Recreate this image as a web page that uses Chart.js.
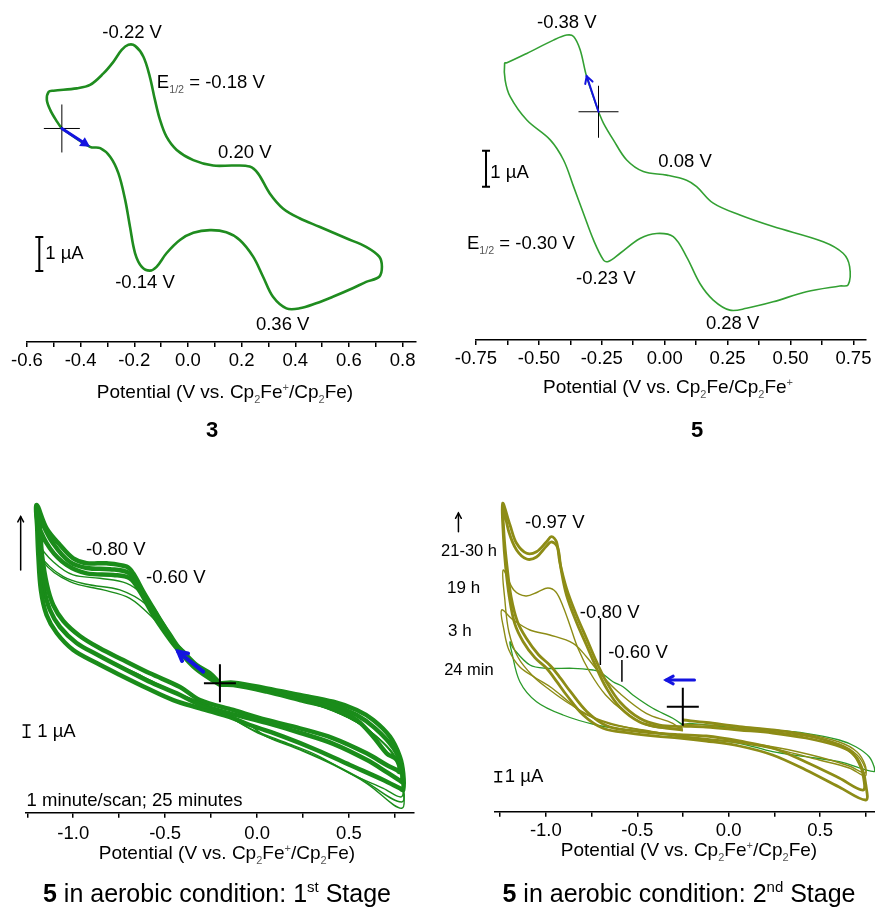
<!DOCTYPE html>
<html>
<head>
<meta charset="utf-8">
<script src="https://cdn.jsdelivr.net/npm/chart.js@4.4.1/dist/chart.umd.min.js"></script>
<style>
  body { margin: 0; background: #fff; }
  #page { position: relative; width: 875px; height: 909px; overflow: hidden; font-family: "Liberation Sans", Arial, sans-serif; color: #000; }
  canvas { position: absolute; }
  .lbl { position: absolute; transform: translate(-50%, -50%); white-space: nowrap; }
  .axt { font-size: 19px; }
  .axt sub, .axt sup { font-size: 58%; color: #555; }
  .cap { font-size: 25px; }
  .cap sup { font-size: 60%; }
  .num { font-weight: bold; font-size: 22px; }
</style>
</head>
<body>
<div id="page">
  <canvas id="cv3" width="440" height="440" style="left:0;top:0"></canvas>
  <canvas id="cv5" width="435" height="440" style="left:440px;top:0"></canvas>
  <canvas id="cvStage1" width="440" height="449" style="left:0;top:460px"></canvas>
  <canvas id="cvStage2" width="435" height="449" style="left:440px;top:460px"></canvas>

  <div class="lbl axt" style="left:225px;top:393px">Potential (V vs. Cp<sub>2</sub>Fe<sup>+</sup>/Cp<sub>2</sub>Fe)</div>
  <div class="lbl num" style="left:212px;top:430px">3</div>
  <div class="lbl axt" style="left:668px;top:388px">Potential (V vs. Cp<sub>2</sub>Fe/Cp<sub>2</sub>Fe<sup>+</sup></div>
  <div class="lbl num" style="left:697px;top:430px">5</div>
  <div class="lbl axt" style="left:227px;top:854px">Potential (V vs. Cp<sub>2</sub>Fe<sup>+</sup>/Cp<sub>2</sub>Fe)</div>
  <div class="lbl cap" style="left:217px;top:893px"><b>5</b> in aerobic condition: 1<sup>st</sup> Stage</div>
  <div class="lbl axt" style="left:689px;top:851px">Potential (V vs. Cp<sub>2</sub>Fe<sup>+</sup>/Cp<sub>2</sub>Fe)</div>
  <div class="lbl cap" style="left:679px;top:893px"><b>5</b> in aerobic condition: 2<sup>nd</sup> Stage</div>
</div>

<script>
// ---- data: [potential (V), current (uA, arbitrary offset)] ----

// compound 3
const scan3 = [
  [-0.470, 6.28], [-0.365, 5.74], [-0.327, 5.70], [-0.290, 5.45], [-0.259, 4.96], [-0.234, 4.18],
  [-0.216, 3.39], [-0.197, 2.61], [-0.172, 2.21], [-0.142, 2.10], [-0.117, 2.21], [-0.080, 2.61],
  [-0.030, 3.00], [0.020, 3.21], [0.082, 3.29], [0.143, 3.23], [0.193, 3.00], [0.243, 2.51],
  [0.280, 1.92], [0.317, 1.33], [0.367, 0.99], [0.416, 0.99], [0.478, 1.14], [0.540, 1.33],
  [0.614, 1.58], [0.664, 1.77], [0.713, 1.92], [0.723, 2.21], [0.713, 2.51], [0.664, 2.80],
  [0.590, 3.05], [0.490, 3.39], [0.416, 3.64], [0.354, 3.93], [0.305, 4.37], [0.261, 4.96],
  [0.230, 5.16], [0.168, 5.19], [0.094, 5.19], [0.020, 5.35], [-0.042, 5.65], [-0.080, 6.04],
  [-0.104, 6.53], [-0.123, 7.12], [-0.142, 7.80], [-0.166, 8.39], [-0.197, 8.71], [-0.222, 8.74],
  [-0.247, 8.59], [-0.278, 8.24], [-0.315, 7.90], [-0.365, 7.56], [-0.414, 7.46], [-0.501, 7.39],
  [-0.519, 7.36], [-0.526, 7.12], [-0.513, 6.82], [-0.488, 6.48], [-0.470, 6.28]
];

// compound 5
const scan5 = [
  [-0.263, 6.34], [-0.310, 7.31], [-0.336, 8.06], [-0.362, 8.43], [-0.389, 8.47], [-0.442, 8.33],
  [-0.548, 7.96], [-0.627, 7.70], [-0.636, 7.69], [-0.634, 7.22], [-0.614, 6.76], [-0.548, 6.11],
  [-0.455, 5.56], [-0.402, 5.00], [-0.362, 4.26], [-0.323, 3.52], [-0.283, 2.78], [-0.243, 2.22],
  [-0.224, 2.18], [-0.177, 2.41], [-0.098, 2.82], [-0.032, 2.96], [0.034, 2.87], [0.087, 2.31],
  [0.140, 1.57], [0.193, 1.11], [0.259, 0.83], [0.325, 0.88], [0.431, 1.06], [0.563, 1.34],
  [0.696, 1.50], [0.729, 1.53], [0.735, 2.04], [0.709, 2.41], [0.630, 2.73], [0.431, 3.15],
  [0.299, 3.47], [0.193, 3.80], [0.127, 4.26], [0.087, 4.44], [0.008, 4.58], [-0.085, 4.68],
  [-0.151, 5.00], [-0.204, 5.56], [-0.243, 6.02], [-0.263, 6.34]
];

// 5 aerobic, 1st stage: bundle of repeated scans (outer, middle, inner) and early scans
const stage1Outer = [
  [-0.202, 10.52], [-0.256, 11.33], [-0.329, 12.01], [-0.402, 13.09], [-0.456, 13.90], [-0.510, 15.26],
  [-0.565, 16.62], [-0.619, 17.97], [-0.674, 19.46], [-0.709, 20.00], [-0.818, 20.28], [-0.927, 20.28],
  [-1.000, 20.68], [-1.072, 21.77], [-1.145, 23.12], [-1.199, 25.02],
  [-1.196, 23.12], [-1.190, 20.95], [-1.176, 18.11], [-1.145, 16.07], [-1.090, 14.61], [-1.000, 13.23],
  [-0.873, 12.17], [-0.746, 11.20], [-0.601, 10.14], [-0.456, 9.16], [-0.311, 8.49], [-0.129, 7.67],
  [-0.039, 7.13], [0.143, 6.18], [0.324, 5.10], [0.505, 3.88], [0.687, 2.66], [0.777, 1.98], [0.795, 1.85],
  [0.795, 3.20], [0.777, 4.55], [0.723, 6.18], [0.632, 7.54], [0.542, 8.35], [0.415, 9.02],
  [0.233, 9.57], [0.052, 10.11], [-0.129, 10.57], [-0.202, 10.52]
];
const stage1Middle = [
  [-0.202, 10.46], [-0.329, 11.85], [-0.420, 13.30], [-0.480, 14.60], [-0.540, 15.90], [-0.600, 17.20],
  [-0.650, 18.50], [-0.700, 19.50], [-0.800, 19.80], [-0.927, 19.90], [-1.020, 20.40], [-1.110, 21.90],
  [-1.170, 23.60], [-1.199, 24.80],
  [-1.190, 23.10], [-1.180, 20.90], [-1.160, 18.30], [-1.127, 16.50], [-1.072, 15.10], [-0.982, 13.80],
  [-0.864, 12.80], [-0.737, 11.80], [-0.592, 10.70], [-0.437, 9.70], [-0.311, 8.80], [-0.129, 8.00],
  [0.052, 7.30], [0.233, 6.50], [0.415, 5.60], [0.596, 4.30], [0.705, 3.30], [0.777, 2.60], [0.790, 2.50],
  [0.785, 3.80], [0.740, 5.30], [0.640, 6.90], [0.542, 7.95], [0.415, 8.75], [0.233, 9.37],
  [0.052, 9.98], [-0.129, 10.47], [-0.202, 10.46]
];
const stage1Inner = [
  [-0.202, 10.40], [-0.329, 11.65], [-0.437, 13.37], [-0.492, 14.45], [-0.565, 16.07], [-0.637, 17.97],
  [-0.692, 19.06], [-0.782, 19.33], [-0.927, 19.46], [-1.036, 20.14], [-1.127, 21.50], [-1.190, 23.39],
  [-1.199, 24.61],
  [-1.181, 23.12], [-1.170, 20.95], [-1.143, 18.51], [-1.109, 16.89], [-1.054, 15.59], [-0.964, 14.37],
  [-0.855, 13.37], [-0.728, 12.41], [-0.583, 11.33], [-0.419, 10.22], [-0.311, 9.16], [-0.129, 8.35],
  [0.052, 7.54], [0.233, 6.86], [0.415, 6.05], [0.596, 4.83], [0.705, 3.88], [0.760, 3.47], [0.777, 3.31],
  [0.760, 4.28], [0.705, 4.83], [0.632, 6.18], [0.542, 7.54], [0.415, 8.49], [0.233, 9.16],
  [0.052, 9.84], [-0.129, 10.38], [-0.202, 10.40]
];
const stage1EarlyA = [
  [-0.202, 10.52], [-0.329, 11.80], [-0.437, 13.37], [-0.492, 14.72], [-0.546, 16.34], [-0.619, 17.70],
  [-0.709, 18.65], [-0.855, 19.06], [-1.000, 19.33], [-1.109, 20.41], [-1.181, 21.77], [-1.197, 23.80],
  [-1.185, 21.50], [-1.172, 19.50], [-1.150, 17.40], [-1.110, 15.80], [-1.050, 14.60], [-0.960, 13.60],
  [-0.850, 12.70], [-0.700, 11.60], [-0.550, 10.50], [-0.400, 9.50], [-0.250, 8.60], [-0.039, 6.86],
  [0.143, 5.77], [0.324, 4.69], [0.505, 3.20], [0.687, 1.98], [0.787, 1.30],
  [0.787, 3.07], [0.750, 4.60], [0.680, 5.80], [0.560, 7.20], [0.415, 8.30], [0.233, 9.20],
  [0.052, 9.90], [-0.129, 10.40], [-0.202, 10.52]
];
const stage1EarlyB = [
  [-0.202, 10.52], [-0.329, 11.80], [-0.437, 13.37], [-0.528, 15.26], [-0.601, 16.89], [-0.746, 18.11],
  [-0.927, 18.57], [-1.054, 19.19], [-1.172, 20.81], [-1.192, 22.98],
  [-1.182, 21.00], [-1.168, 19.00], [-1.145, 17.20], [-1.100, 15.60], [-1.030, 14.40], [-0.940, 13.40],
  [-0.820, 12.50], [-0.680, 11.50], [-0.530, 10.40], [-0.380, 9.40], [-0.220, 8.40], [-0.050, 7.20],
  [0.052, 6.18], [0.233, 5.10], [0.415, 3.88], [0.596, 2.39], [0.787, 0.36],
  [0.787, 2.66], [0.755, 4.30], [0.690, 5.60], [0.570, 7.10], [0.415, 8.25], [0.233, 9.15],
  [0.052, 9.85], [-0.129, 10.35], [-0.202, 10.52]
];
const stage1EarlyC = [
  [-0.202, 10.52], [-0.329, 11.80], [-0.437, 13.37], [-0.492, 14.45], [-0.565, 15.80], [-0.692, 17.43],
  [-0.837, 18.11], [-1.018, 18.78], [-1.163, 20.41], [-1.187, 22.57],
  [-1.178, 20.60], [-1.163, 18.70], [-1.140, 17.00], [-1.095, 15.50], [-1.020, 14.30], [-0.930, 13.30],
  [-0.810, 12.40], [-0.670, 11.40], [-0.520, 10.30], [-0.370, 9.30], [-0.210, 8.30], [0.005, 6.48],
  [0.179, 5.50], [0.369, 4.28], [0.560, 2.82], [0.787, 0.87],
  [0.787, 2.90], [0.752, 4.45], [0.685, 5.70], [0.565, 7.15], [0.415, 8.28], [0.233, 9.18],
  [0.052, 9.87], [-0.129, 10.37], [-0.202, 10.52]
];

// 5 aerobic, 2nd stage
const stage2LateOuter = [   // 21-30 h
  [-0.251, 8.50], [-0.378, 8.67], [-0.487, 9.34], [-0.596, 11.00], [-0.669, 13.00], [-0.723, 15.00],
  [-0.778, 17.34], [-0.833, 19.67], [-0.887, 22.34], [-0.924, 25.00], [-0.942, 27.00], [-0.969, 27.50],
  [-0.996, 27.00], [-1.051, 26.00], [-1.105, 25.84], [-1.160, 26.84], [-1.196, 28.67], [-1.236, 30.84],
  [-1.232, 27.50], [-1.220, 24.50], [-1.200, 21.50], [-1.170, 18.80], [-1.124, 17.00], [-1.060, 15.40],
  [-0.996, 14.34], [-0.940, 13.00], [-0.887, 11.67], [-0.796, 9.67], [-0.687, 8.34], [-0.540, 7.85],
  [-0.400, 7.55], [-0.269, 7.37],
  [-0.123, 7.07], [0.058, 6.57], [0.240, 5.67], [0.422, 4.17], [0.604, 2.47], [0.750, 1.17],
  [0.750, 2.67], [0.732, 4.17], [0.695, 5.50], [0.604, 6.67], [0.422, 7.67], [0.240, 8.17],
  [0.058, 8.50], [-0.123, 8.92], [-0.251, 9.17]
];
const stage2LateInner = [   // 21-30 h
  [-0.251, 8.17], [-0.378, 8.47], [-0.487, 8.97], [-0.596, 10.47], [-0.669, 12.37], [-0.723, 14.37],
  [-0.778, 16.67], [-0.833, 18.97], [-0.887, 21.67], [-0.918, 24.37], [-0.935, 26.37], [-0.967, 26.97],
  [-0.996, 26.57], [-1.051, 25.47], [-1.105, 25.27], [-1.160, 26.17], [-1.202, 27.97], [-1.232, 30.37],
  [-1.228, 27.50], [-1.212, 24.50], [-1.190, 21.50], [-1.155, 19.00], [-1.105, 17.30], [-1.040, 15.70],
  [-0.975, 14.60], [-0.918, 13.30], [-0.865, 12.00], [-0.775, 10.00], [-0.668, 8.60], [-0.530, 8.10],
  [-0.400, 7.85], [-0.269, 7.70],
  [-0.123, 7.57], [0.058, 7.07], [0.240, 6.37], [0.422, 4.97], [0.604, 3.37], [0.735, 2.17],
  [0.735, 3.67], [0.713, 4.87], [0.669, 5.97], [0.582, 6.67], [0.422, 7.37], [0.240, 7.87],
  [0.058, 8.17], [-0.123, 8.47], [-0.251, 8.57]
];
const stage2At19h = [
  [-0.251, 8.27], [-0.433, 8.57], [-0.569, 9.97], [-0.673, 11.67], [-0.760, 13.97], [-0.825, 16.37],
  [-0.869, 18.67], [-0.907, 20.57], [-0.945, 21.97], [-0.989, 22.37], [-1.044, 21.97], [-1.109, 21.57],
  [-1.175, 22.17], [-1.233, 24.17],
  [-1.224, 21.17], [-1.202, 17.97], [-1.153, 15.47], [-1.071, 13.57], [-0.978, 12.17], [-0.869, 10.77],
  [-0.733, 9.37], [-0.542, 8.37], [-0.251, 7.57],
  [0.058, 6.97], [0.277, 6.37], [0.495, 5.47], [0.659, 4.57], [0.746, 3.87],
  [0.746, 4.67], [0.702, 5.97], [0.604, 6.97], [0.386, 7.87], [0.058, 8.47], [-0.251, 8.77]
];
const stage2At3h = [
  [-0.251, 8.07], [-0.306, 8.84], [-0.451, 9.84], [-0.596, 11.84], [-0.705, 13.84], [-0.778, 15.50],
  [-0.851, 16.84], [-0.978, 17.67], [-1.087, 18.17], [-1.178, 19.17], [-1.242, 20.17],
  [-1.229, 18.17], [-1.202, 16.17], [-1.142, 14.47], [-1.055, 13.37], [-0.967, 12.37], [-0.880, 11.07],
  [-0.787, 9.77], [-0.651, 8.77], [-0.433, 8.07], [-0.251, 7.47],
  [0.058, 6.87], [0.277, 6.17], [0.495, 5.17], [0.659, 4.37], [0.746, 3.57],
  [0.746, 4.37], [0.702, 5.67], [0.604, 6.77], [0.386, 7.67], [0.058, 8.32], [-0.251, 8.57]
];
const stage2At24min = [
  [-0.251, 8.67], [-0.306, 9.34], [-0.415, 10.34], [-0.524, 11.67], [-0.578, 12.50], [-0.633, 13.00],
  [-0.705, 14.00], [-0.742, 14.17], [-0.851, 14.34], [-0.996, 14.34], [-1.087, 14.67], [-1.178, 16.34],
  [-1.196, 17.00],
  [-1.187, 16.00], [-1.142, 13.00], [-1.051, 11.00], [-0.906, 9.67], [-0.723, 8.67], [-0.542, 8.17],
  [-0.251, 7.50], [0.058, 6.84], [0.240, 6.00], [0.422, 5.50], [0.604, 5.00], [0.795, 4.00],
  [0.795, 4.50], [0.768, 5.50], [0.695, 6.50], [0.604, 7.17], [0.422, 7.84], [0.240, 8.17],
  [0.058, 8.34], [-0.214, 8.84], [-0.251, 8.67]
];

// ---- drawing helpers ----
const FONT = '"Liberation Sans", Arial, sans-serif';
Chart.defaults.font.family = FONT;
Chart.defaults.color = '#000';

const toPts = arr => arr.map(([x, y]) => ({ x, y }));

function drawRich(ctx, parts, x, y, align, size) {
  const big = size + 'px ' + FONT, small = (size * 0.58) + 'px ' + FONT;
  let total = 0;
  const widths = parts.map(([t, m]) => {
    ctx.font = m ? small : big;
    const w = ctx.measureText(t).width;
    total += w;
    return w;
  });
  let cx = align === 'left' ? x : align === 'right' ? x - total : x - total / 2;
  ctx.textAlign = 'left';
  ctx.textBaseline = 'middle';
  parts.forEach(([t, m], i) => {
    ctx.font = m ? small : big;
    ctx.fillStyle = m ? '#555' : '#000';
    const dy = m === 'sub' ? size * 0.4 : m === 'sup' ? -size * 0.35 : 0;
    ctx.fillText(t, cx, y + dy);
    cx += widths[i];
  });
}

function drawArrow(ctx, x1, y1, x2, y2, color, w, head, filled) {
  const a = Math.atan2(y2 - y1, x2 - x1);
  ctx.strokeStyle = color;
  ctx.fillStyle = color;
  ctx.lineWidth = w;
  ctx.lineCap = 'round';
  const ex = filled ? x2 - Math.cos(a) * head * 0.8 : x2;
  const ey = filled ? y2 - Math.sin(a) * head * 0.8 : y2;
  ctx.beginPath();
  ctx.moveTo(x1, y1);
  ctx.lineTo(ex, ey);
  ctx.stroke();
  const hx1 = x2 - head * Math.cos(a - 0.5), hy1 = y2 - head * Math.sin(a - 0.5);
  const hx2 = x2 - head * Math.cos(a + 0.5), hy2 = y2 - head * Math.sin(a + 0.5);
  ctx.beginPath();
  ctx.moveTo(hx1, hy1);
  ctx.lineTo(x2, y2);
  ctx.lineTo(hx2, hy2);
  if (filled) { ctx.closePath(); ctx.fill(); } else { ctx.stroke(); }
}

function annotator(notes) {
  return {
    id: 'notes',
    afterDatasetsDraw(chart) {
      const ctx = chart.ctx;
      const X = v => chart.scales.x.getPixelForValue(v);
      const Y = v => chart.scales.y.getPixelForValue(v);
      ctx.save();
      (notes.bars || []).forEach(b => {
        const x = X(b.x), y1 = Y(b.y1), y2 = Y(b.y2);
        ctx.strokeStyle = '#000';
        ctx.lineWidth = b.width;
        ctx.lineCap = 'butt';
        ctx.beginPath();
        ctx.moveTo(x, y1); ctx.lineTo(x, y2);
        ctx.moveTo(x - b.cap, y1); ctx.lineTo(x + b.cap, y1);
        ctx.moveTo(x - b.cap, y2); ctx.lineTo(x + b.cap, y2);
        ctx.stroke();
      });
      (notes.lines || []).forEach(l => {
        ctx.strokeStyle = '#000';
        ctx.lineWidth = l.width;
        ctx.beginPath();
        ctx.moveTo(X(l.x1), Y(l.y1));
        ctx.lineTo(X(l.x2), Y(l.y2));
        ctx.stroke();
      });
      (notes.crosses || []).forEach(c => {
        const x = X(c.x), y = Y(c.y);
        ctx.strokeStyle = '#000';
        ctx.lineWidth = c.width;
        ctx.lineCap = 'butt';
        ctx.beginPath();
        ctx.moveTo(x - c.hw, y); ctx.lineTo(x + c.hw, y);
        ctx.moveTo(x, y - c.hh); ctx.lineTo(x, y + c.hh);
        ctx.stroke();
      });
      (notes.arrows || []).forEach(a => {
        drawArrow(ctx, X(a.x1), Y(a.y1), X(a.x2), Y(a.y2), a.color, a.width, a.head, a.filled);
      });
      (notes.texts || []).forEach(t => {
        drawRich(ctx, t.parts, X(t.x), Y(t.y), t.align || 'center', t.size || notes.fontSize);
      });
      ctx.restore();
    }
  };
}

function makeChart(id, cfg) {
  return new Chart(document.getElementById(id), {
    type: 'scatter',
    data: {
      datasets: cfg.series.map(s => ({
        data: toPts(s.data),
        showLine: true,
        borderColor: s.color,
        borderWidth: s.width,
        pointRadius: 0,
        tension: 0.35,
        fill: false
      }))
    },
    options: {
      responsive: false,
      animation: false,
      layout: { padding: { left: cfg.padLeft, right: cfg.padRight, top: 0, bottom: 0 } },
      plugins: { legend: { display: false }, tooltip: { enabled: false } },
      scales: {
        x: {
          type: 'linear',
          min: cfg.xmin,
          max: cfg.xmax,
          afterFit: scale => { scale.height = cfg.axisH; },
          border: { display: true, color: '#000', width: 1.5 },
          grid: { display: true, drawOnChartArea: false, drawTicks: true, tickLength: 5, color: '#000', lineWidth: 1.5 },
          ticks: {
            stepSize: cfg.step,
            includeBounds: false,
            autoSkip: false,
            maxTicksLimit: 100,
            maxRotation: 0,
            padding: cfg.tickPad,
            color: '#000',
            font: { size: 18.5 },
            callback: v => {
              const k = v / cfg.major;
              if (Math.abs(k - Math.round(k)) > 1e-6) return '';
              return (Math.abs(v) < 1e-9 ? 0 : v).toFixed(cfg.dec);
            }
          }
        },
        y: { display: false, min: 0, max: cfg.ymax }
      }
    },
    plugins: [annotator(cfg.notes)]
  });
}

const BLUE = '#1414e0';

makeChart('cv3', {
  xmin: -0.601, xmax: 0.85, step: 0.1, major: 0.2, dec: 1, tickPad: 3,
  padLeft: 26.7, padRight: 24, axisH: 98, ymax: 342 / 34,
  series: [{ data: scan3, color: '#1f8c1f', width: 2.6 }],
  notes: {
    fontSize: 18.5,
    texts: [
      { x: -0.208, y: 9.09, parts: [['-0.22 V']] },
      { x: -0.116, y: 7.62, parts: [['E'], ['1/2', 'sub'], [' = -0.18 V']], align: 'left' },
      { x: 0.212, y: 5.56, parts: [['0.20 V']] },
      { x: -0.160, y: 1.74, parts: [['-0.14 V']] },
      { x: 0.353, y: 0.50, parts: [['0.36 V']] },
      { x: -0.532, y: 2.59, parts: [['1 µA']], align: 'left' }
    ],
    bars: [{ x: -0.554, y1: 3.09, y2: 2.09, cap: 4, width: 2 }],
    crosses: [{ x: -0.470, y: 6.28, hw: 18, hh: 24, width: 1 }],
    arrows: [{ x1: -0.470, y1: 6.28, x2: -0.365, y2: 5.74, color: BLUE, width: 3, head: 11, filled: true }]
  }
});

makeChart('cv5', {
  xmin: -0.751, xmax: 0.80, step: 0.125, major: 0.25, dec: 2, tickPad: 3,
  padLeft: 35.7, padRight: 9, axisH: 100, ymax: 340 / 36,
  series: [{ data: scan5, color: '#33a033', width: 1.6 }],
  notes: {
    fontSize: 18.5,
    texts: [
      { x: -0.389, y: 8.81, parts: [['-0.38 V']] },
      { x: 0.081, y: 4.95, parts: [['0.08 V']] },
      { x: -0.786, y: 2.67, parts: [['E'], ['1/2', 'sub'], [' = -0.30 V']], align: 'left' },
      { x: -0.234, y: 1.71, parts: [['-0.23 V']] },
      { x: 0.270, y: 0.44, parts: [['0.28 V']] },
      { x: -0.693, y: 4.65, parts: [['1 µA']], align: 'left' }
    ],
    bars: [{ x: -0.710, y1: 5.26, y2: 4.26, cap: 4, width: 2 }],
    crosses: [{ x: -0.263, y: 6.34, hw: 20, hh: 26, width: 1 }],
    arrows: [{ x1: -0.263, y1: 6.34, x2: -0.310, y2: 7.33, color: BLUE, width: 2, head: 8, filled: false }]
  }
});

const GREEN1 = '#1a8c1a';
makeChart('cvStage1', {
  xmin: -1.257, xmax: 0.85, step: 0.25, major: 0.5, dec: 1, tickPad: 5,
  padLeft: 26, padRight: 26.7, axisH: 96.3, ymax: 352.7 / 12.3,
  series: [
    { data: stage1EarlyC, color: GREEN1, width: 1.4 },
    { data: stage1EarlyB, color: GREEN1, width: 1.4 },
    { data: stage1EarlyA, color: GREEN1, width: 1.4 },
    { data: stage1Inner, color: GREEN1, width: 4.5 },
    { data: stage1Middle, color: GREEN1, width: 4.5 },
    { data: stage1Outer, color: GREEN1, width: 4.5 }
  ],
  notes: {
    fontSize: 18.5,
    texts: [
      { x: -0.769, y: 21.36, parts: [['-0.80 V']] },
      { x: -0.442, y: 19.06, parts: [['-0.60 V']] },
      { x: -1.254, y: 0.98, parts: [['1 minute/scan; 25 minutes']], align: 'left' },
      { x: -1.196, y: 6.56, parts: [['1 µA']], align: 'left' }
    ],
    bars: [{ x: -1.254, y1: 7.13, y2: 6.13, cap: 4, width: 1.5 }],
    crosses: [{ x: -0.202, y: 10.52, hw: 16, hh: 19, width: 2 }],
    arrows: [
      { x1: -1.286, y1: 19.73, x2: -1.286, y2: 24.07, color: '#000', width: 1.5, head: 6, filled: false },
      { x1: -0.293, y1: 11.47, x2: -0.429, y2: 13.09, color: BLUE, width: 4, head: 10, filled: false }
    ]
  }
});

const OLIVE = '#8d8c16';
makeChart('cvStage2', {
  xmin: -1.278, xmax: 0.80, step: 0.25, major: 0.5, dec: 1, tickPad: 3,
  padLeft: 55, padRight: 0, axisH: 97.3, ymax: 351.7 / 10,
  series: [
    { data: stage2At3h, color: OLIVE, width: 1.4 },
    { data: stage2At19h, color: OLIVE, width: 1.4 },
    { data: stage2LateInner, color: OLIVE, width: 2.8 },
    { data: stage2LateOuter, color: OLIVE, width: 2.8 },
    { data: stage2At24min, color: '#2a9a2a', width: 1.3 }
  ],
  notes: {
    fontSize: 18.5,
    texts: [
      { x: -0.951, y: 28.84, parts: [['-0.97 V']] },
      { x: -0.651, y: 19.84, parts: [['-0.80 V']] },
      { x: -0.496, y: 15.84, parts: [['-0.60 V']] },
      { x: -1.267, y: 26.07, parts: [['21-30 h']], align: 'right', size: 16.5 },
      { x: -1.540, y: 22.34, parts: [['19 h']], align: 'left', size: 17 },
      { x: -1.535, y: 18.0, parts: [['3 h']], align: 'left', size: 17 },
      { x: -1.556, y: 14.17, parts: [['24 min']], align: 'left', size: 16.5 },
      { x: -1.224, y: 3.5, parts: [['1 µA']], align: 'left' }
    ],
    lines: [
      { x1: -0.702, y1: 19.37, x2: -0.702, y2: 14.67, width: 1.5 },
      { x1: -0.584, y1: 15.17, x2: -0.584, y2: 13.0, width: 1.5 }
    ],
    bars: [{ x: -1.260, y1: 4.0, y2: 3.0, cap: 4, width: 1.5 }],
    crosses: [{ x: -0.251, y: 10.5, hw: 16, hh: 19, width: 2 }],
    arrows: [
      { x1: -1.478, y1: 28.0, x2: -1.478, y2: 29.87, color: '#000', width: 1.5, head: 6, filled: false },
      { x1: -0.187, y1: 13.17, x2: -0.342, y2: 13.17, color: BLUE, width: 3, head: 8, filled: false }
    ]
  }
});
</script>
</body>
</html>
